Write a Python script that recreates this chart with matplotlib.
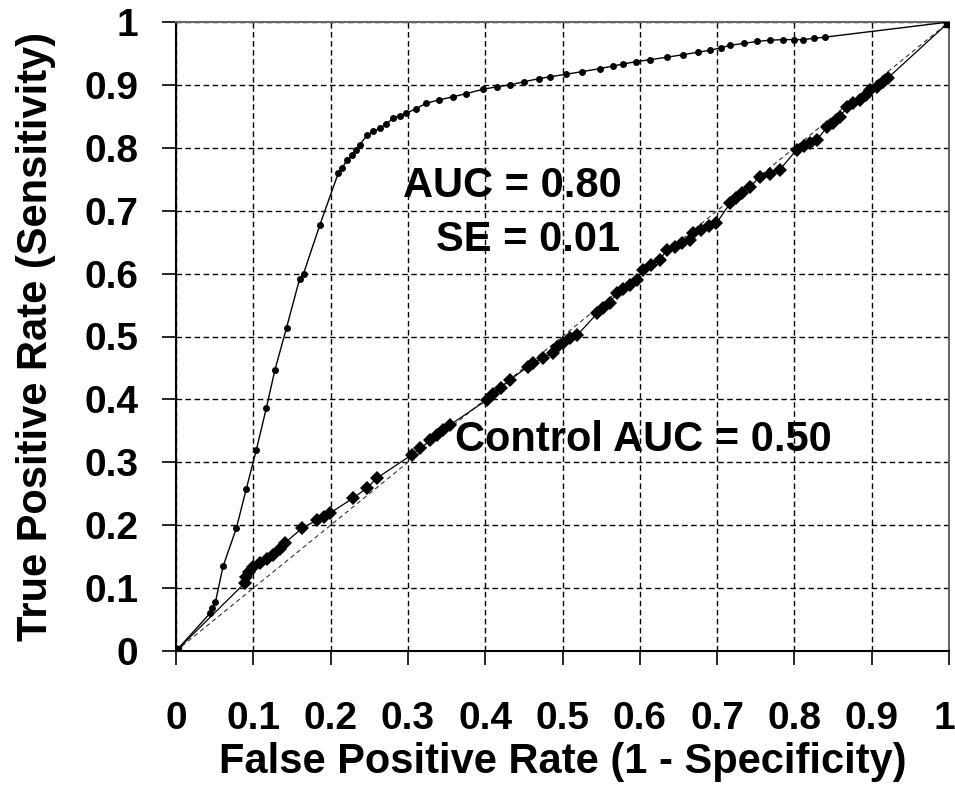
import matplotlib
matplotlib.use("Agg")
import matplotlib.pyplot as plt
import matplotlib.transforms as mtransforms
import numpy as np

plt.rcParams['font.family'] = ['Liberation Sans', 'DejaVu Sans']

# ROC curve (AUC = 0.80)
roc_fpr = [0.0, 0.044, 0.047, 0.051, 0.061, 0.078, 0.091, 0.104, 0.117, 0.128,
           0.143, 0.160, 0.165, 0.186, 0.210, 0.215, 0.221, 0.228, 0.233, 0.238,
           0.247, 0.255, 0.264, 0.272, 0.281, 0.290, 0.298, 0.310, 0.324, 0.340,
           0.358, 0.375, 0.397, 0.415, 0.432, 0.450, 0.470, 0.484, 0.505, 0.525,
           0.549, 0.565, 0.578, 0.595, 0.613, 0.635, 0.656, 0.675, 0.691, 0.705,
           0.717, 0.735, 0.751, 0.768, 0.785, 0.800, 0.811, 0.825, 0.840, 1.0]
roc_tpr = [0.0, 0.060, 0.068, 0.078, 0.135, 0.195, 0.258, 0.320, 0.387, 0.447,
           0.514, 0.592, 0.600, 0.677, 0.760, 0.768, 0.780, 0.788, 0.796, 0.805,
           0.820, 0.826, 0.831, 0.838, 0.847, 0.851, 0.855, 0.862, 0.871, 0.876,
           0.881, 0.886, 0.893, 0.897, 0.900, 0.905, 0.910, 0.913, 0.917, 0.921,
           0.926, 0.930, 0.933, 0.937, 0.940, 0.944, 0.948, 0.952, 0.955, 0.959,
           0.963, 0.966, 0.969, 0.971, 0.972, 0.972, 0.972, 0.974, 0.976, 1.0]

# Control curve (AUC = 0.50)
ctl_fpr = [0.0, 0.089, 0.091, 0.094, 0.100, 0.109, 0.118, 0.126, 0.134, 0.141,
           0.163, 0.182, 0.191, 0.199, 0.229, 0.247, 0.260, 0.305, 0.316, 0.329,
           0.338, 0.345, 0.354, 0.402, 0.410, 0.420, 0.432, 0.455, 0.462, 0.475,
           0.488, 0.493, 0.500, 0.510, 0.519, 0.545, 0.553, 0.561, 0.570, 0.578,
           0.587, 0.596, 0.604, 0.615, 0.626, 0.635, 0.645, 0.655, 0.665, 0.669,
           0.679, 0.689, 0.699, 0.717, 0.724, 0.732, 0.743, 0.755, 0.768, 0.781,
           0.803, 0.812, 0.820, 0.829, 0.842, 0.850, 0.859, 0.868, 0.876, 0.885,
           0.892, 0.898, 0.907, 0.914, 0.921, 1.0]
ctl_tpr = [0.0, 0.108, 0.118, 0.125, 0.134, 0.140, 0.147, 0.153, 0.162, 0.172,
           0.195, 0.208, 0.213, 0.219, 0.243, 0.259, 0.275, 0.312, 0.322, 0.335,
           0.343, 0.351, 0.359, 0.399, 0.408, 0.418, 0.431, 0.452, 0.458, 0.466,
           0.474, 0.483, 0.490, 0.497, 0.502, 0.537, 0.545, 0.553, 0.569, 0.575,
           0.582, 0.590, 0.606, 0.614, 0.622, 0.638, 0.643, 0.648, 0.653, 0.665,
           0.670, 0.675, 0.680, 0.712, 0.720, 0.728, 0.738, 0.754, 0.759, 0.765,
           0.797, 0.803, 0.808, 0.812, 0.833, 0.840, 0.849, 0.865, 0.871, 0.876,
           0.884, 0.892, 0.897, 0.904, 0.911, 1.0]

diag = [0.0, 1.0]
ticks = [0.0, 0.1, 0.2, 0.3, 0.4, 0.5, 0.6, 0.7, 0.8, 0.9, 1.0]
tick_labels = ['0', '0.1', '0.2', '0.3', '0.4', '0.5', '0.6', '0.7', '0.8', '0.9', '1']

fig = plt.figure(figsize=(9.55, 7.85), dpi=100)
ax = fig.add_axes([176/955, 134/785, 773/955, 629/785])

ax.set_xlim(0, 1)
ax.set_ylim(0, 1)

# grid
ax.grid(True, color='black', linestyle=(0, (4, 2.5)), linewidth=1.0)
ax.set_axisbelow(True)

# diagonal reference
ax.plot(diag, diag, color='#333333', linestyle=(0, (4, 3)), linewidth=0.8, zorder=2)

# control curve
ax.plot(ctl_fpr, ctl_tpr, color='black', linewidth=0.9, marker='D',
        markersize=7.5, markeredgewidth=0, zorder=3)
# main ROC curve
ax.plot(roc_fpr, roc_tpr, color='black', linewidth=1.0, marker='o',
        markersize=5, markeredgewidth=0, zorder=4)
# end points
ax.plot([roc_fpr[0], roc_fpr[-1]], [roc_tpr[0], roc_tpr[-1]], linestyle='none',
        marker='s', markersize=6.5, color='black', zorder=5)

ax.set_xticks(ticks)
ax.set_xticklabels(tick_labels)
ax.set_yticks(ticks)
ax.set_yticklabels(tick_labels)
ax.tick_params(axis='both', direction='out', length=10, width=1.2, color='black',
               labelsize=28)
ax.tick_params(axis='x', pad=26)
ax.tick_params(axis='y', pad=17)
for lab in ax.get_xticklabels() + ax.get_yticklabels():
    lab.set_fontweight('bold')
# keep the last x tick label inside the figure
last = ax.get_xticklabels()[-1]
last.set_transform(last.get_transform() +
                   mtransforms.ScaledTranslation(-5/100, 0, fig.dpi_scale_trans))

for s in ['left', 'bottom']:
    ax.spines[s].set_color('black')
    ax.spines[s].set_linewidth(1.5)
for s in ['top', 'right']:
    ax.spines[s].set_color('#666666')
    ax.spines[s].set_linewidth(1.5)

ax.set_xlabel('False Positive Rate (1 - Specificity)', fontsize=30, fontweight='bold')
ax.set_ylabel('True Positive Rate (Sensitivity)', fontsize=30, fontweight='bold')
ax.xaxis.set_label_coords(0.5, -0.145)
ax.yaxis.set_label_coords(-0.155, 0.5)

ax.text(0.435, 0.739, 'AUC = 0.80', fontsize=30, fontweight='bold',
        ha='center', va='center', zorder=6)
ax.text(0.574, 0.653, 'SE = 0.01', fontsize=30, fontweight='bold',
        ha='right', va='center', zorder=6)
ax.text(0.361, 0.335, 'Control AUC = 0.50', fontsize=30, fontweight='bold',
        ha='left', va='center', zorder=6)

fig.savefig('out.png', dpi=100)
